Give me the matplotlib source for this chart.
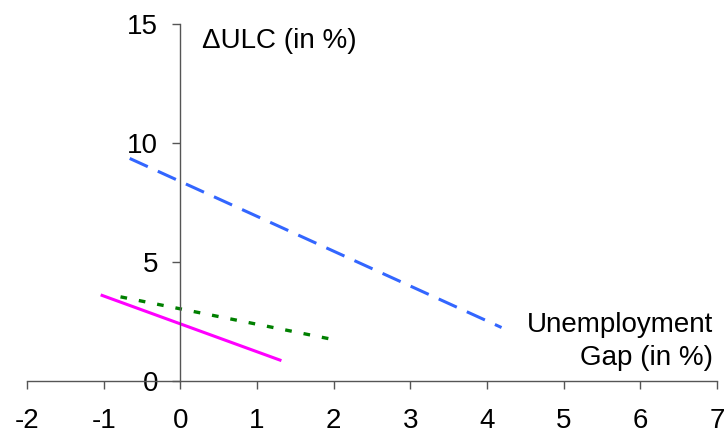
import matplotlib.pyplot as plt

plt.rcParams['font.family'] = ['Liberation Sans', 'DejaVu Sans']
plt.rcParams['axes.unicode_minus'] = False

# endpoints of the three lines (unemployment gap, delta ULC)
blue_x = [-0.66, 4.19]
blue_y = [9.36, 2.25]
green_x = [-0.78, 2.0]
green_y = [3.54, 1.74]
magenta_x = [-1.02, 1.30]
magenta_y = [3.60, 0.88]

x_ticks = [-2, -1, 0, 1, 2, 3, 4, 5, 6, 7]
y_ticks = [0, 5, 10, 15]

fig = plt.figure(figsize=(7.27, 4.32), dpi=100)
ax = fig.add_axes([0.0371, 0.118, 0.9491, 0.8257])

ax.plot(blue_x, blue_y, color='#3366ff', lw=2.2, dashes=(6.5, 3.6), solid_capstyle='butt')
ax.plot(green_x, green_y, color='#008000', lw=2.4, dashes=(2, 3.6))
ax.plot(magenta_x, magenta_y, color='#ff00ff', lw=2.2)

ax.set_xlim(-2, 7)
ax.set_ylim(0, 15)
ax.spines['left'].set_position(('data', 0))
ax.spines['bottom'].set_position(('data', 0))
ax.spines['right'].set_visible(False)
ax.spines['top'].set_visible(False)
for s in ['left', 'bottom']:
    ax.spines[s].set_color('#555555')
    ax.spines[s].set_linewidth(1)

ax.set_xticks(x_ticks)
ax.set_yticks(y_ticks)
ax.tick_params(axis='x', direction='out', length=5.5, width=1, color='#555555',
               pad=14, labelsize=20)
ax.tick_params(axis='y', direction='out', length=6, width=1, color='#555555',
               pad=10, labelsize=20)

ax.text(0.28, 14.0, '\u0394ULC (in %)', fontsize=20, va='baseline', ha='left')
ax.text(6.95, 2.07, 'Unemployment', fontsize=20, va='baseline', ha='right')
ax.text(6.95, 0.67, 'Gap (in %)', fontsize=20, va='baseline', ha='right')

fig.savefig('out.png', dpi=100)
